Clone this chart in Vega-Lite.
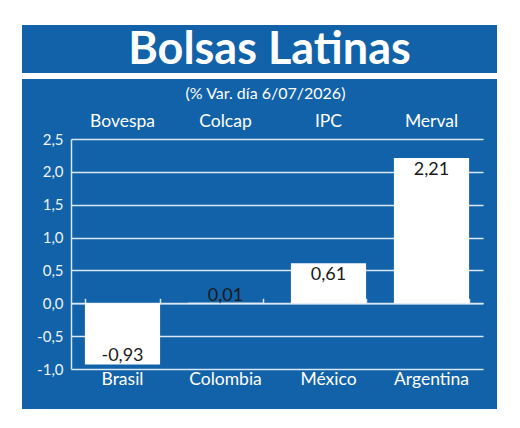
{
  "$schema": "https://vega.github.io/schema/vega-lite/v6.json",
  "background": "white",
  "padding": {"left": 22, "top": 25, "right": 23, "bottom": 18},
  "autosize": {"type": "pad"},
  "config": {
    "view": {"fill": "#1162a8", "stroke": null},
    "locale": {"number": {"decimal": ",", "thousands": ".", "grouping": [3], "currency": ["", " €"], "minus": "-"}},
    "font": "Lato"
  },
  "spacing": 6,
  "bounds": "flush",
  "vconcat": [
    {
      "width": 475,
      "height": 48,
      "view": {"fill": "#1162a8", "stroke": null},
      "data": {"values": [{"t": "Bolsas Latinas"}]},
      "layer": [
        {"mark": {"type": "rect", "color": "#1162a8"}, "encoding": {}},
        {
          "mark": {"type": "text", "font": "Lato", "fontWeight": "bold", "fontSize": 45, "color": "white", "baseline": "alphabetic", "dy": 15, "dx": 10},
          "encoding": {"text": {"field": "t", "type": "nominal"}}
        }
      ]
    },
    {
      "width": 475,
      "height": 330,
      "title": {"text": "(% Var. día 6/07/2026)", "frame": "group", "anchor": "middle", "offset": -23, "color": "white", "font": "Lato", "fontSize": 16, "fontWeight": "normal", "dx": 6},
      "data": {"values": [
        {"pais": "Brasil", "indice": "Bovespa", "valor": -0.93},
        {"pais": "Colombia", "indice": "Colcap", "valor": 0.01},
        {"pais": "México", "indice": "IPC", "valor": 0.61},
        {"pais": "Argentina", "indice": "Merval", "valor": 2.21}
      ]},
      "encoding": {
        "x": {
          "field": "pais", "type": "nominal",
          "sort": ["Brasil", "Colombia", "México", "Argentina"],
          "scale": {"type": "band", "range": [49, 461], "paddingInner": 0.27, "paddingOuter": 0.135},
          "axis": {"orient": "top", "offset": -224.3, "title": null, "labels": false, "grid": false, "domainColor": "#dbe7f3", "domainWidth": 1.5, "tickColor": "#dbe7f3", "tickWidth": 1.5, "tickSize": 5, "tickBand": "extent"}
        }
      },
      "layer": [
        {
          "mark": {"type": "bar", "color": "white"},
          "encoding": {
            "y": {
              "field": "valor", "type": "quantitative",
              "scale": {"domain": [-1, 2.5], "range": [290, 60], "nice": false, "zero": false},
              "axis": {"orient": "left", "offset": -49, "title": null, "values": [-1, -0.5, 0, 0.5, 1, 1.5, 2, 2.5], "format": ".1f", "labelColor": "#eef3f9", "labelFont": "Lato", "labelFontSize": 15, "labelPadding": 8, "ticks": false, "domainColor": "#dbe7f3", "domainWidth": 1.5, "grid": true, "gridColor": "#dbe7f3", "gridWidth": 1.5, "gridOpacity": 1}
            }
          }
        },
        {
          "transform": [{"filter": "datum.valor > 0.1"}],
          "mark": {"type": "text", "baseline": "top", "dy": 3, "fontSize": 18, "font": "Lato", "color": "#1a1a1a"},
          "encoding": {"y": {"field": "valor", "type": "quantitative"}, "text": {"field": "valor", "type": "quantitative", "format": ".2f"}}
        },
        {
          "transform": [{"filter": "datum.valor >= 0 && datum.valor <= 0.1"}],
          "mark": {"type": "text", "baseline": "alphabetic", "dy": -2, "fontSize": 18, "font": "Lato", "color": "#1a1a1a"},
          "encoding": {"y": {"field": "valor", "type": "quantitative"}, "text": {"field": "valor", "type": "quantitative", "format": ".2f"}}
        },
        {
          "transform": [{"filter": "datum.valor < 0"}],
          "mark": {"type": "text", "baseline": "alphabetic", "dy": -3, "fontSize": 18, "font": "Lato", "color": "#1a1a1a"},
          "encoding": {"y": {"field": "valor", "type": "quantitative"}, "text": {"field": "valor", "type": "quantitative", "format": ".2f"}}
        },
        {
          "mark": {"type": "text", "baseline": "alphabetic", "dy": -12, "fontSize": 17.5, "font": "Lato", "color": "white"},
          "encoding": {"y": {"datum": 2.5}, "text": {"field": "indice", "type": "nominal"}}
        },
        {
          "mark": {"type": "text", "baseline": "top", "dy": 2, "fontSize": 17.5, "font": "Lato", "color": "white"},
          "encoding": {"y": {"datum": -1}, "text": {"field": "pais", "type": "nominal"}}
        }
      ]
    }
  ]
}
